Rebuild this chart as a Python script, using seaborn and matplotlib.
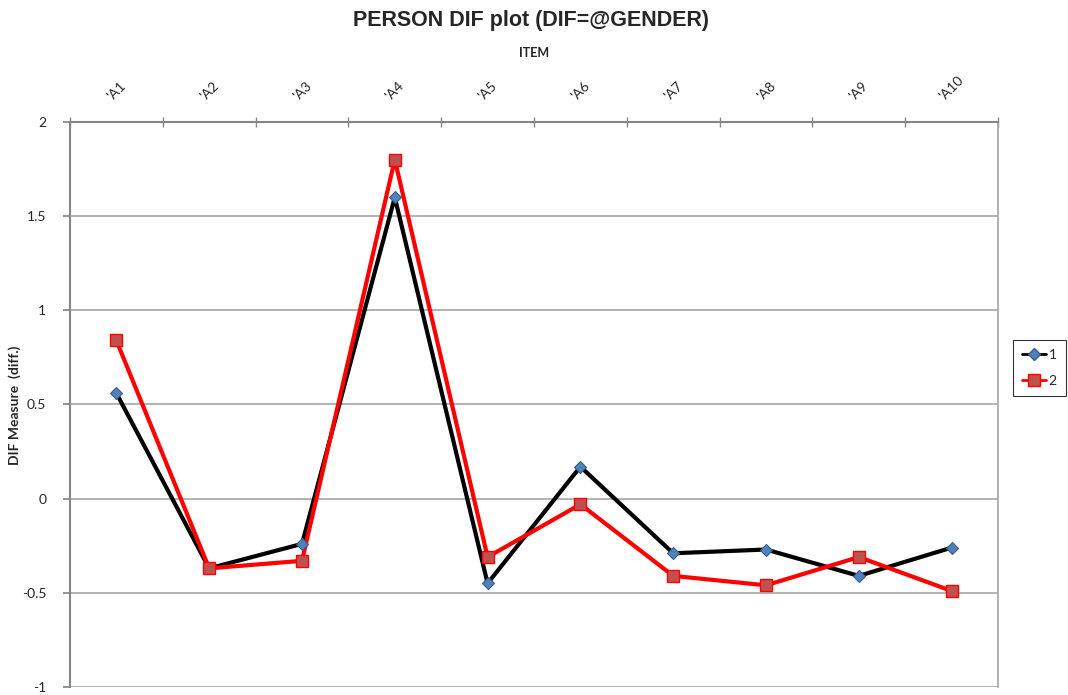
import numpy as np
import pandas as pd
import matplotlib
matplotlib.use("Agg")
import matplotlib.pyplot as plt
import seaborn as sns

# Values
items = ["'A1", "'A2", "'A3", "'A4", "'A5", "'A6", "'A7", "'A8", "'A9", "'A10"]
group_1 = [0.56, -0.37, -0.24, 1.60, -0.45, 0.17, -0.29, -0.27, -0.41, -0.26]
group_2 = [0.84, -0.37, -0.33, 1.80, -0.31, -0.03, -0.41, -0.46, -0.31, -0.49]
y_ticks = [-1, -0.5, 0, 0.5, 1, 1.5, 2]
y_tick_labels = ["-1", "-0.5", "0", "0.5", "1", "1.5", "2"]

sns.set_theme(style="white")
plt.rcParams["font.family"] = ["Lato", "DejaVu Sans"]

df = pd.DataFrame({
    "pos": list(range(len(items))) * 2,
    "value": group_1 + group_2,
    "group": ["1"] * len(items) + ["2"] * len(items),
})

fig = plt.figure(figsize=(10.68, 6.95), dpi=100)
ax = fig.add_axes([0.0655, 0.0115, 0.869, 0.813])

# gridlines first so lines sit on top
for yv in y_ticks:
    ax.axhline(yv, color="#a6a6a6", lw=1.2, zorder=0)

palette = {"1": "black", "2": "#ff0000"}
sns.lineplot(data=df, x="pos", y="value", hue="group", palette=palette,
             lw=3, ax=ax, legend=False, zorder=2)

# markers drawn separately to match Excel style
ax.plot(range(len(items)), group_1, ls="none", marker="D", ms=6.5,
        mfc="#4f81bd", mec="#385d8a", mew=0.8, zorder=3)
ax.plot(range(len(items)), group_2, ls="none", marker="s", ms=8.5,
        mfc="#c0504d", mec="#ff0000", mew=1.0, zorder=3)

ax.set_xlim(-0.5, len(items) - 0.5)
ax.set_ylim(-1, 2)

# category axis on top, ticks at the boundaries
ax.xaxis.tick_top()
ax.xaxis.set_label_position("top")
ax.set_xticks(np.arange(len(items)))
ax.set_xticklabels(items, rotation=45, ha="center", va="bottom", fontsize=10)
ax.tick_params(axis="x", which="major", length=0, pad=14)
ax.set_xticks(np.arange(-0.5, len(items)), minor=True)
ax.tick_params(axis="x", which="minor", direction="inout", length=7,
               color="#868686", top=True, bottom=False)

ax.set_yticks(y_ticks)
ax.set_yticklabels(y_tick_labels, fontsize=10)
ax.tick_params(axis="y", which="major", direction="out", length=5,
               color="#868686", left=True, pad=12)

for side, sp in ax.spines.items():
    sp.set_color("#868686")
    sp.set_linewidth(1.5)
ax.spines["bottom"].set_visible(False)
ax.spines["right"].set_color("#a6a6a6")
ax.spines["right"].set_linewidth(1.2)

ax.set_xlabel("ITEM", fontsize=9, fontweight="bold", labelpad=12)
ax.set_ylabel("")
fig.text(0.014, 0.417, "DIF Measure  (diff.)", rotation=90, ha="center",
         va="center", fontsize=10, fontweight="bold")

fig.suptitle("PERSON DIF plot (DIF=@GENDER)", x=0.497, y=0.985,
             fontsize=15.5, fontweight="bold", family=["Liberation Sans", "DejaVu Sans"])

# legend box on the right
h1 = plt.Line2D([], [], color="black", lw=2, marker="D", ms=6,
                mfc="#4f81bd", mec="#385d8a")
h2 = plt.Line2D([], [], color="#ff0000", lw=2, marker="s", ms=8,
                mfc="#c0504d", mec="#ff0000")
leg = fig.legend([h1, h2], ["1", "2"], loc="upper left",
                 bbox_to_anchor=(0.9485, 0.511), frameon=True, fancybox=False,
                 fontsize=10, handlelength=1.7, borderpad=0.65,
                 labelspacing=1.0, handletextpad=0.2, borderaxespad=0)
leg.get_frame().set_edgecolor("black")
leg.get_frame().set_linewidth(0.8)

fig.savefig("out.png", dpi=100)
